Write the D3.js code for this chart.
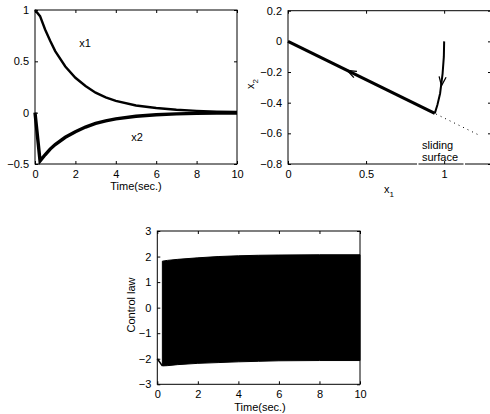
<!DOCTYPE html>
<html>
<head>
<meta charset="utf-8">
<script src="https://cdn.jsdelivr.net/npm/d3@7"></script>
<style>
  body { margin: 0; background: #fff; }
  svg { display: block; font-family: "Liberation Sans", Arial, sans-serif; }
  text { fill: #000; }
</style>
</head>
<body>
<div id="chart"></div>
<script>
// time responses of the two states
const time = [0, 0.25, 0.5, 0.75, 1, 1.5, 2, 2.5, 3, 3.5, 4, 5, 6, 7, 8, 9, 10]
const x1Values = [1.0, 0.94, 0.81, 0.7, 0.6, 0.45, 0.34, 0.26, 0.195, 0.15, 0.115, 0.07, 0.045, 0.028, 0.017, 0.01, 0.006]
const x2Values = [0, -0.47, -0.41, -0.355, -0.31, -0.24, -0.185, -0.14, -0.105, -0.08, -0.06, -0.035, -0.02, -0.012, -0.007, -0.004, -0.003]

// phase plane trajectory (reaching phase, then sliding to the origin)
const phaseX1 = [1.0, 0.998, 0.99, 0.974, 0.957, 0.94, 0.0]
const phaseX2 = [0.0, -0.1, -0.21, -0.34, -0.414, -0.47, 0.0]
const surfaceX1 = [0, 1.22]
const surfaceX2 = [0, -0.61]

// control law: reaching segment, then the chattering band envelopes
const ctrlReachT = [0, 0.25]
const ctrlReachU = [-2.0, -2.28]
const ctrlT = [0.25, 0.5, 1, 2, 3, 4, 5, 6, 8, 10]
const ctrlUpper = [1.82, 1.85, 1.89, 1.95, 2.0, 2.03, 2.05, 2.06, 2.07, 2.07]
const ctrlLower = [-2.28, -2.27, -2.23, -2.18, -2.15, -2.12, -2.1, -2.08, -2.07, -2.07]

// tick labels
const timeTicks = [0, 2, 4, 6, 8, 10]
const stateTicks = [-0.5, 0, 0.5, 1]
const phaseXTicks = [0, 0.5, 1]
const phaseYTicks = [-0.8, -0.6, -0.4, -0.2, 0, 0.2]
const ctrlTicks = [-3, -2, -1, 0, 1, 2, 3]

const W = 490
const H = 414
const fmt = d3.format('~g')

const svg = d3.select('#chart')
  .append('svg')
  .attr('width', W)
  .attr('height', H)

// draws a matlab-style box with inward ticks on all four sides
function makeAxes (box, xDomain, yDomain, xTicks, yTicks) {
  const x = d3.scaleLinear().domain(xDomain).range([box.left, box.right])
  const y = d3.scaleLinear().domain(yDomain).range([box.bottom, box.top])
  const g = svg.append('g')

  const styleAxis = (sel) => {
    sel.select('.domain').remove()
    sel.selectAll('line').attr('stroke', '#000').attr('stroke-width', 1)
    sel.selectAll('text').attr('font-size', 11).attr('fill', '#000')
  }

  g.append('g')
    .attr('transform', `translate(0,${box.bottom})`)
    .call(d3.axisBottom(x).tickValues(xTicks).tickSize(-3).tickPadding(6).tickFormat(fmt))
    .call(styleAxis)
  g.append('g')
    .attr('transform', `translate(0,${box.top})`)
    .call(d3.axisTop(x).tickValues(xTicks).tickSize(-3).tickFormat(''))
    .call(styleAxis)
  g.append('g')
    .attr('transform', `translate(${box.left},0)`)
    .call(d3.axisLeft(y).tickValues(yTicks).tickSize(-3).tickPadding(6).tickFormat(fmt))
    .call(styleAxis)
  g.append('g')
    .attr('transform', `translate(${box.right},0)`)
    .call(d3.axisRight(y).tickValues(yTicks).tickSize(-3).tickFormat(''))
    .call(styleAxis)

  g.append('rect')
    .attr('x', box.left)
    .attr('y', box.top)
    .attr('width', box.right - box.left)
    .attr('height', box.bottom - box.top)
    .attr('fill', 'none')
    .attr('stroke', '#000')
    .attr('stroke-width', 1)

  return { x, y, g }
}

// ---- top left: x1, x2 versus time
const a = makeAxes({ left: 35, right: 237, top: 10, bottom: 164 }, [0, 10], [-0.5, 1], timeTicks, stateTicks)
const lineA = d3.line().x(d => a.x(d[0])).y(d => a.y(d[1]))
svg.insert('path', 'g')
  .attr('d', lineA(time.map((t, i) => [t, x1Values[i]])))
  .attr('fill', 'none').attr('stroke', '#000').attr('stroke-width', 2.4)
svg.insert('path', 'g')
  .attr('d', lineA(time.map((t, i) => [t, x2Values[i]])))
  .attr('fill', 'none').attr('stroke', '#000').attr('stroke-width', 3.4)
svg.append('text').attr('x', 85).attr('y', 47).attr('text-anchor', 'middle').attr('font-size', 11).text('x1')
svg.append('text').attr('x', 137).attr('y', 141).attr('text-anchor', 'middle').attr('font-size', 11).text('x2')
svg.append('text').attr('x', 136).attr('y', 190).attr('text-anchor', 'middle').attr('font-size', 11).text('Time(sec.)')

// ---- top right: phase plane
const b = makeAxes({ left: 288, right: 491, top: 10.7, bottom: 164 }, [0, 1.3], [-0.8, 0.2], phaseXTicks, phaseYTicks)
const lineB = d3.line().x(d => b.x(d[0])).y(d => b.y(d[1]))
svg.insert('path', 'g')
  .attr('d', lineB(surfaceX1.map((v, i) => [v, surfaceX2[i]])))
  .attr('fill', 'none').attr('stroke', '#000').attr('stroke-width', 1)
  .attr('stroke-dasharray', '1,4')
// reaching curve (thinner) and sliding segment (thicker)
svg.insert('path', 'g')
  .attr('d', lineB(phaseX1.slice(0, 6).map((v, i) => [v, phaseX2[i]])))
  .attr('fill', 'none').attr('stroke', '#000').attr('stroke-width', 2)
svg.insert('path', 'g')
  .attr('d', lineB(phaseX1.slice(5).map((v, i) => [v, phaseX2[i + 5]])))
  .attr('fill', 'none').attr('stroke', '#000').attr('stroke-width', 3.2)

// direction arrows
function arrowHead (px, py, angle) {
  svg.append('path')
    .attr('d', 'M0,0 L-9,-3.5 M0,0 L-9,3.5')
    .attr('transform', `translate(${px},${py}) rotate(${angle})`)
    .attr('fill', 'none').attr('stroke', '#000').attr('stroke-width', 1.3)
}
const slideAngle = Math.atan2(b.y(0) - b.y(-0.47), b.x(0) - b.x(0.94)) * 180 / Math.PI
arrowHead(b.x(0.38), b.y(-0.19), slideAngle)
arrowHead(b.x(0.983), b.y(-0.29), 97)

// white gaps in the bottom frame line
svg.append('rect').attr('x', 417).attr('y', 163).attr('width', 1.5).attr('height', 2).attr('fill', '#fff')
svg.append('rect').attr('x', 463.5).attr('y', 163).attr('width', 1.5).attr('height', 2).attr('fill', '#fff')

svg.append('text').attr('x', 422).attr('y', 149).attr('font-size', 11).text('sliding')
svg.append('text').attr('x', 422).attr('y', 161).attr('font-size', 11).text('surface')
const xl = svg.append('text').attr('x', 384).attr('y', 193).attr('font-size', 11)
xl.append('tspan').text('x')
xl.append('tspan').attr('font-size', 8).attr('dy', 4).text('1')
const yl = svg.append('text').attr('transform', 'translate(254,89) rotate(-90)').attr('font-size', 11)
yl.append('tspan').text('x')
yl.append('tspan').attr('font-size', 8).attr('dy', 4).text('2')

// ---- bottom: control law
const c = makeAxes({ left: 157.3, right: 360, top: 231, bottom: 384.3 }, [0, 10], [-3, 3], timeTicks, ctrlTicks)
svg.insert('path', 'g')
  .attr('d', d3.area()
    .x(d => c.x(d[0]))
    .y0(d => c.y(d[1]))
    .y1(d => c.y(d[2]))(ctrlT.map((t, i) => [t, ctrlLower[i], ctrlUpper[i]])))
  .attr('fill', '#000').attr('stroke', '#000').attr('stroke-width', 1)
svg.insert('path', 'g')
  .attr('d', d3.line().x(d => c.x(d[0])).y(d => c.y(d[1]))(ctrlReachT.map((t, i) => [t, ctrlReachU[i]])))
  .attr('fill', 'none').attr('stroke', '#000').attr('stroke-width', 1.6)
svg.append('text').attr('x', 260).attr('y', 411).attr('text-anchor', 'middle').attr('font-size', 11).text('Time(sec.)')
svg.append('text').attr('transform', 'translate(135,305) rotate(-90)').attr('text-anchor', 'middle').attr('font-size', 11).text('Control law')
</script>
</body>
</html>
